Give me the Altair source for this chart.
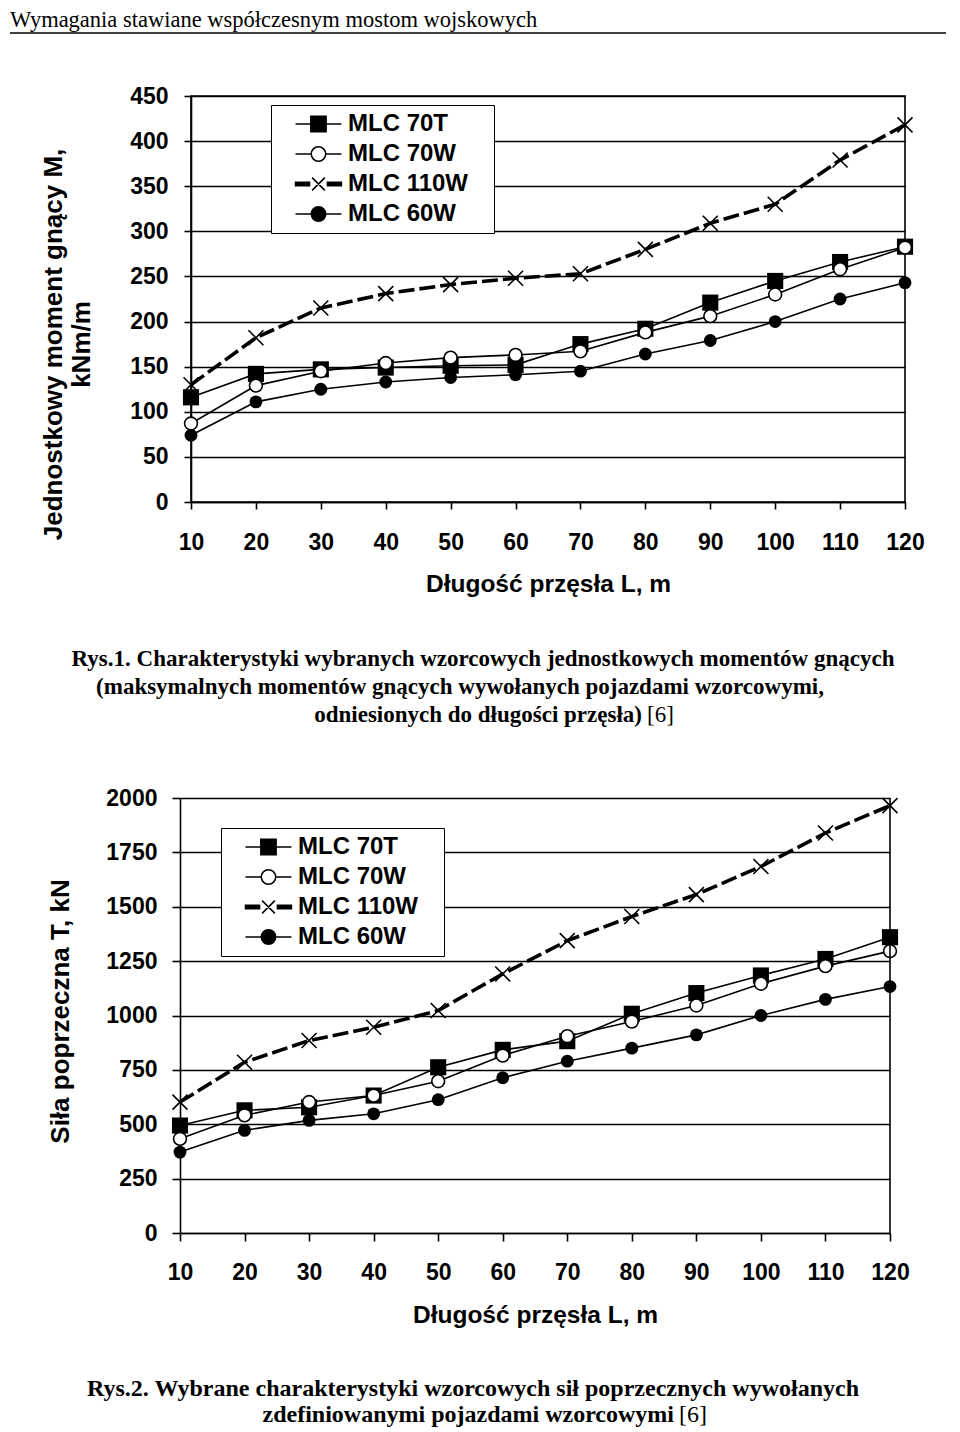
import altair as alt
import pandas as pd

# ---------------- data ----------------
SPANS = [10, 20, 30, 40, 50, 60, 70, 80, 90, 100, 110, 120]
SERIES = ["MLC 70T", "MLC 70W", "MLC 110W", "MLC 60W"]

moment_70T = [116, 142, 147, 149, 151, 152, 175, 192, 221, 245, 266, 283]
moment_70W = [87, 129, 145, 154, 160, 163, 167, 188, 206, 230, 258, 282]
moment_110W = [130, 182, 215, 231, 241, 248, 253, 280, 309, 330, 379, 418]
moment_60W = [74, 111, 125, 133, 138, 141, 145, 164, 179, 200, 225, 243]

shear_70T = [494, 564, 578, 632, 762, 842, 882, 1008, 1103, 1184, 1260, 1360]
shear_70W = [433, 541, 602, 632, 698, 816, 905, 972, 1046, 1146, 1227, 1296]
shear_110W = [602, 785, 885, 946, 1023, 1191, 1344, 1455, 1556, 1685, 1839, 1965]
shear_60W = [372, 472, 518, 548, 613, 714, 790, 850, 911, 1000, 1074, 1133]

moment_ticks = [0, 50, 100, 150, 200, 250, 300, 350, 400, 450]
shear_ticks = [0, 250, 500, 750, 1000, 1250, 1500, 1750, 2000]

HEADER = ["Wymagania stawiane współczesnym mostom wojskowych"]
X_TITLE = "Długość przęsła L, m"
M_TITLE = ["Jednostkowy moment gnący M,", "kNm/m"]
T_TITLE = "Siła poprzeczna T, kN"
CAP1 = ["Rys.1. Charakterystyki wybranych wzorcowych jednostkowych momentów gnących",
        "(maksymalnych momentów gnących wywołanych pojazdami wzorcowymi,",
        "odniesionych do długości przęsła)"]
CAP2 = ["Rys.2. Wybrane charakterystyki wzorcowych sił poprzecznych wywołanych",
        "zdefiniowanymi pojazdami wzorcowymi"]
REF = ["[6]"]

SANS = "Liberation Sans"
SERIF = "Liberation Serif"

X_PATH = "M-1,-1L1,1M-1,1L1,-1"


def legend_paths(c):
    a, b = c - 2.7, c + 2.7
    r = 0.85
    circ = f"M{c - r:.2f},0A{r},{r},0,1,1,{c + r:.2f},0A{r},{r},0,1,1,{c - r:.2f},0Z"
    return [
        f"M{a:.2f},0H{b:.2f}M{c - 0.9:.2f},-0.9H{c + 0.9:.2f}V0.9H{c - 0.9:.2f}Z",
        f"M{a:.2f},0H{c - r:.2f}M{c + r:.2f},0H{b:.2f}" + circ,
        f"M{a:.2f},-0.2H{c - 1.05:.2f}V0.2H{a:.2f}Z"
        f"M{c + 1.05:.2f},-0.2H{b:.2f}V0.2H{c + 1.05:.2f}Z"
        f"M{c - 0.75:.2f},-0.75L{c + 0.75:.2f},0.75M{c - 0.75:.2f},0.75L{c + 0.75:.2f},-0.75",
        f"M{a:.2f},0H{b:.2f}" + circ,
    ]


LEGEND_PATHS = legend_paths(3.35)
LEGEND_FILLS = ["black", "white", "black", "black"]
LEGEND_STROKES = ["black", "black", "black", "black"]
PAD = "\u2800"  # blank glyph that widens the legend box to the right


def long_df(cols):
    rows = []
    for s, vals in zip(SERIES, cols):
        for L, v in zip(SPANS, vals):
            rows.append({"L": L, "v": v, "s": s})
    return pd.DataFrame(rows)


def text_layer(txt, x, y, align, weight, size=23):
    return alt.Chart(pd.DataFrame({"t": txt})).mark_text(
        font=SERIF, fontSize=size, fontWeight=weight, align=align,
        baseline="alphabetic", color="black"
    ).encode(text="t:N", x=alt.value(x), y=alt.value(y))


def panel(cols, w, h, xrange, yoffset, ymax, yticks, ytitle, ytx, yty, lx, ly,
          tsize, lpy, lpx, tpx, extra, frame):
    df = long_df(cols)
    xscale = alt.Scale(domain=[10, 120], nice=False, zero=False, range=xrange)
    yscale = alt.Scale(domain=[0, ymax], nice=False)
    xaxis = alt.Axis(values=SPANS, title=X_TITLE, grid=False, tickSize=tsize,
                     labelPadding=lpx, titlePadding=tpx, format="d",
                     labelFlush=False, labelOverlap=False)
    yaxis = alt.Axis(values=yticks, title=ytitle, grid=True, tickSize=tsize,
                     labelPadding=lpy, titleX=ytx, titleY=yty, titleAngle=270,
                     titleAlign="center", titleBaseline="middle",
                     titleLineHeight=28, titleFontSize=26, format="d",
                     labelFlush=False, labelOverlap=False, offset=yoffset)
    x = alt.X("L:Q", scale=xscale, axis=xaxis)
    y = alt.Y("v:Q", scale=yscale, axis=yaxis)
    base = alt.Chart(df).encode(x=x, y=y)
    thin = base.transform_filter(alt.datum.s != "MLC 110W").mark_line(
        color="black", strokeWidth=1.6).encode(detail="s:N")
    thick = base.transform_filter(alt.datum.s == "MLC 110W").mark_line(
        color="black", strokeWidth=3.6, strokeDash=[16, 5])
    p_sq = base.transform_filter(alt.datum.s == "MLC 70T").mark_point(
        shape="square", size=260, filled=True, color="black", opacity=1)
    p_oc = base.transform_filter(alt.datum.s == "MLC 70W").mark_point(
        shape="circle", size=165, fill="white", stroke="black", strokeWidth=1.6,
        opacity=1, fillOpacity=1)
    p_x = base.transform_filter(alt.datum.s == "MLC 110W").mark_point(
        shape=X_PATH, size=225, stroke="black", strokeWidth=1.6, opacity=1)
    p_fc = base.transform_filter(alt.datum.s == "MLC 60W").mark_point(
        shape="circle", size=165, filled=True, color="black", opacity=1)
    legend = alt.Legend(orient="none", legendX=lx, legendY=ly, title=None, padding=7,
                        fillColor="white", strokeColor="black", labelFont=SANS,
                        labelFontSize=24, labelFontWeight="bold", labelColor="black",
                        symbolSize=289, symbolStrokeWidth=1.5, symbolStrokeColor="black",
                        symbolOpacity=1, rowPadding=6, labelOffset=46, labelLimit=400,
                        labelExpr="datum.label + '" + PAD + "'")
    leg = alt.Chart(df).transform_filter("false").mark_point(
        opacity=1, strokeWidth=1.5).encode(
        shape=alt.Shape("s:N", scale=alt.Scale(domain=SERIES, range=LEGEND_PATHS),
                        legend=legend),
        fill=alt.Fill("s:N", scale=alt.Scale(domain=SERIES, range=LEGEND_FILLS),
                      legend=legend),
        stroke=alt.Stroke("s:N", scale=alt.Scale(domain=SERIES, range=LEGEND_STROKES),
                          legend=legend))
    layers = [thin, thick, p_sq, p_oc, p_x, p_fc, leg]
    props = dict(width=w, height=h)
    if frame:
        props["view"] = alt.ViewBackground(stroke="black", strokeWidth=1.6)
    else:
        border = alt.Chart(pd.DataFrame({"b": [0]})).transform_calculate(
            xb="120", y0="0", y1=str(ymax)
        ).mark_rule(color="black", strokeWidth=1.6).encode(
            x=alt.X("xb:Q", scale=xscale, axis=xaxis),
            y=alt.Y("y0:Q", scale=yscale, axis=yaxis),
            y2="y1:Q")
        layers = layers + [border]
    return alt.layer(*(layers + extra)).properties(**props)


header = [
    alt.Chart(pd.DataFrame({"t": HEADER})).mark_text(
        font=SERIF, fontSize=22.5, align="left", baseline="top", color="black"
    ).encode(text="t:N", x=alt.value(-181), y=alt.value(-87)),
    alt.Chart(pd.DataFrame({"t": HEADER})).mark_rule(
        color="#404040", strokeWidth=2
    ).encode(x=alt.value(-181), x2=alt.value(755), y=alt.value(-63)),
]
top_caps = [
    text_layer([CAP1[0]], 292, 570, "center", "bold"),
    text_layer([CAP1[1]], 269, 598, "center", "bold"),
    text_layer([CAP1[2]], 451, 626, "right", "bold"),
    text_layer(REF, 456, 626, "left", "normal"),
]
# bottom panel coordinates are relative to the top panel's left edge (189 px)
bottom_caps = [
    text_layer([CAP2[0]], 282, 598, "center", "bold", 24),
    text_layer([CAP2[1]], 483, 624, "right", "bold", 24),
    text_layer(REF, 488, 624, "left", "normal", 24),
]

top = panel([moment_70T, moment_70W, moment_110W, moment_60W], 714, 406, [0, 714], 0,
            450, moment_ticks, M_TITLE, -138, 248, 80, 9, 7, 16, 22, 18,
            header + top_caps, True)
bottom = panel([shear_70T, shear_70W, shear_110W, shear_60W], 699, 435, [-11, 699], 11,
               2000, shear_ticks, T_TITLE, -120, 213, 30, 30, 8, 15, 20, 19,
               bottom_caps, False)

chart = alt.vconcat(top, bottom, spacing=296, bounds="flush").resolve_scale(
    shape="independent", fill="independent", stroke="independent"
).properties(
    padding=0
).configure_view(stroke="transparent").configure_axis(
    domainColor="black", tickColor="black", gridColor="black", labelColor="black",
    titleColor="black", labelFont=SANS, titleFont=SANS, labelFontSize=23,
    titleFontSize=24.5, labelFontWeight="bold", titleFontWeight="bold",
    domainWidth=1.6, tickWidth=1.6, gridWidth=1.6
)

chart.save("out.html", embed_options={"renderer": "svg", "actions": False})
